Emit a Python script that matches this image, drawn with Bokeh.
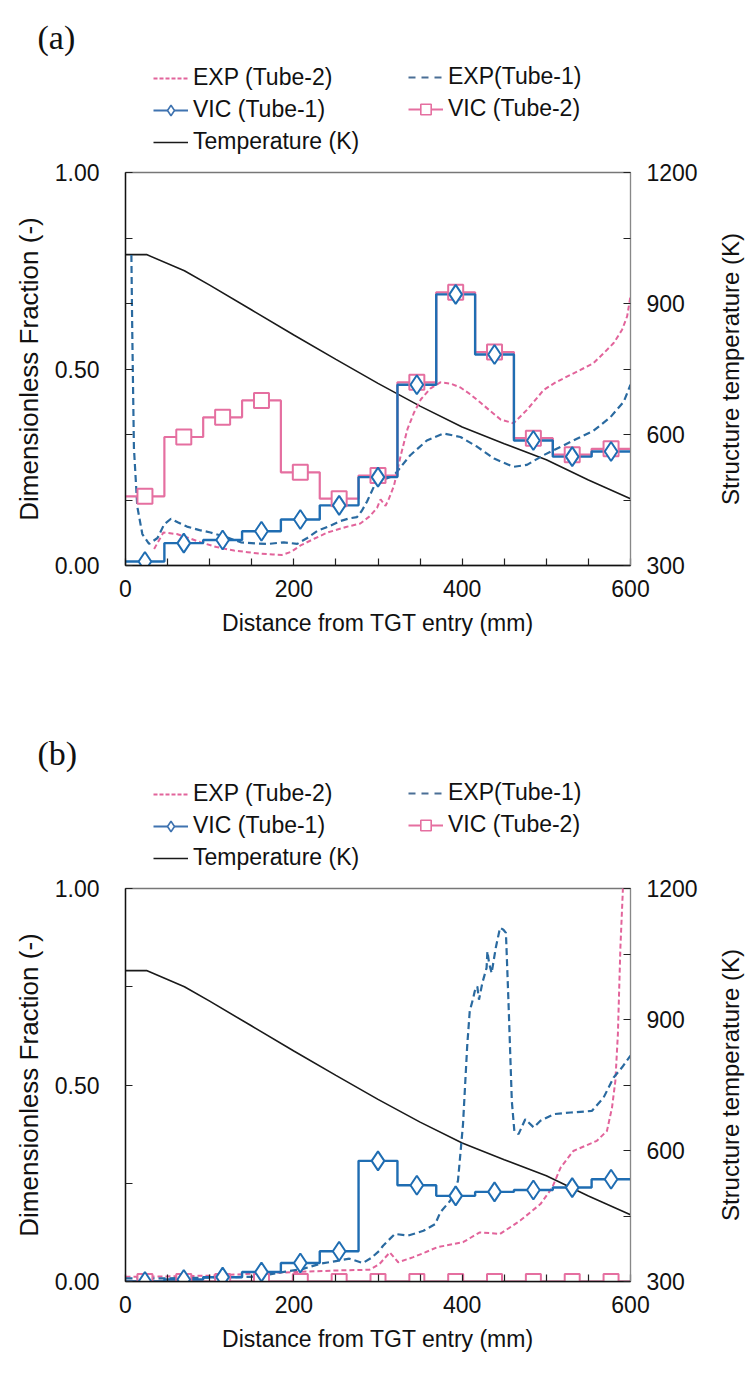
import math
from bokeh.plotting import figure
from bokeh.models import (Range1d, LinearAxis, FixedTicker, NumeralTickFormatter,
                          Legend, LegendItem, Label)
from bokeh.layouts import column, row
from bokeh.embed import file_html
from bokeh.resources import INLINE

# ---------------- data ----------------
x_ticks = [0, 200, 400, 600]
x_minor = [50, 100, 150, 250, 300, 350, 450, 500, 550]
left_ticks = [0.0, 0.5, 1.0]
left_minor_a = [1 / 6, 2 / 6, 4 / 6, 5 / 6]
left_minor_b = [0.25, 0.75]
right_ticks = [300, 600, 900, 1200]
right_minor = [450, 750, 1050]

# VIC cell edges (13 cells along the tube, mm)
vic_edges = [0, 46.2, 92.3, 138.5, 184.6, 230.8, 276.9, 323.1, 369.2, 415.4, 461.5, 507.7, 553.8, 600]

# structure temperature (K) - same in both panels
temp_x = [0, 25, 70, 100, 150, 200, 250, 300, 350, 400, 450, 500, 550, 600]
temp_K = [1012, 1012, 975, 942, 885, 828, 772, 717, 665, 617, 579, 542, 496, 453]

# ---- panel (a) ----
vic1_a = [0.01, 0.057, 0.065, 0.087, 0.117, 0.153, 0.225, 0.46, 0.69, 0.537, 0.318, 0.277, 0.29]
vic2_a = [0.176, 0.327, 0.377, 0.42, 0.237, 0.170, 0.229, 0.466, 0.695, 0.543, 0.324, 0.282, 0.297]

exp1_a_x = [7, 8, 10, 14, 20, 28, 38, 46, 54, 62, 73, 88, 101, 120, 137, 155, 170, 188, 204,
            216, 228, 242, 255, 266, 275, 281, 287, 295, 303, 319, 338, 358, 378, 398, 418,
            438, 461, 477, 497, 517, 537, 556, 576, 592, 600]
exp1_a_y = [0.79, 0.6, 0.3, 0.15, 0.08, 0.055, 0.07, 0.105, 0.119, 0.11, 0.099, 0.09, 0.084,
            0.072, 0.059, 0.056, 0.055, 0.059, 0.055, 0.07, 0.088, 0.1, 0.113, 0.12, 0.123,
            0.14, 0.163, 0.2, 0.215, 0.229, 0.28, 0.318, 0.336, 0.327, 0.302, 0.272, 0.251,
            0.256, 0.281, 0.302, 0.323, 0.343, 0.377, 0.417, 0.46]

exp2_a_x = [34, 45, 61, 75, 89, 108, 129, 145, 160, 175, 186, 197, 208, 224, 240, 262, 279,
            290, 299, 303, 306, 309, 313, 319, 327, 335, 343, 351, 362, 374, 386, 398, 410,
            422, 434, 446, 461, 477, 497, 511, 525, 540, 556, 568, 580, 590, 596, 600]
exp2_a_y = [0.042, 0.084, 0.08, 0.07, 0.059, 0.047, 0.038, 0.034, 0.03, 0.028, 0.027, 0.035,
            0.051, 0.068, 0.084, 0.098, 0.107, 0.125, 0.147, 0.168, 0.16, 0.152, 0.17, 0.203,
            0.28, 0.347, 0.39, 0.423, 0.45, 0.466, 0.463, 0.453, 0.435, 0.414, 0.392, 0.371,
            0.362, 0.396, 0.447, 0.466, 0.481, 0.497, 0.515, 0.54, 0.566, 0.6, 0.634, 0.686]

# ---- panel (b) ----
vic1_b = [0.0, 0.005, 0.011, 0.024, 0.047, 0.077, 0.307, 0.245, 0.218, 0.228, 0.233, 0.239, 0.26]
vic2_b = [0.0, 0.0, 0.0, 0.0, 0.0, 0.0, 0.0, 0.0, 0.0, 0.0, 0.0, 0.0, 0.0]

exp1_b_x = [0, 50, 100, 150, 163, 190, 211, 231, 250, 266, 282, 292, 302, 306, 320, 336, 354,
            368, 374, 386, 395, 401, 406, 409, 413, 415, 418, 420, 424, 429, 430, 432, 435,
            440, 445, 449, 452, 455, 459, 462, 467, 475, 485, 493, 509, 529, 554, 568, 580,
            590, 600]
exp1_b_y = [0.008, 0.008, 0.01, 0.012, 0.015, 0.025, 0.032, 0.045, 0.052, 0.058, 0.047, 0.06,
            0.079, 0.091, 0.121, 0.117, 0.129, 0.146, 0.176, 0.206, 0.256, 0.40, 0.6, 0.688,
            0.72, 0.739, 0.751, 0.717, 0.76, 0.798, 0.84, 0.81, 0.785, 0.85, 0.9, 0.895,
            0.887, 0.713, 0.459, 0.383, 0.375, 0.413, 0.392, 0.409, 0.426, 0.43, 0.434,
            0.468, 0.519, 0.545, 0.575]

exp2_b_x = [0, 50, 100, 155, 200, 250, 290, 302, 314, 324, 342, 356, 370, 401, 421, 445, 469,
            493, 507, 517, 532, 560, 572, 578, 582, 585, 588, 592]
exp2_b_y = [0.012, 0.013, 0.015, 0.02, 0.024, 0.028, 0.03, 0.045, 0.074, 0.049, 0.062, 0.074,
            0.087, 0.1, 0.125, 0.121, 0.155, 0.197, 0.239, 0.29, 0.332, 0.358, 0.383, 0.442,
            0.51, 0.629, 0.85, 1.05]

# ---------------- style ----------------
SANS = "Liberation Sans"
SERIF = "Liberation Serif"
PINK = "#E2649B"
PINK_V = "#E56FA0"
BLUE = "#1F6DB2"
BLUE_D = "#2A6AA0"
TEMP_C = "#1a1a1a"
INK = "#111111"

W = 745
HEAD_H = 156
TOP_B = 16
FRAME_H = 393
RIGHT_W = 30
MAIN_W = W - RIGHT_W

vic_centers = [(a + b) / 2 for a, b in zip(vic_edges[:-1], vic_edges[1:])]

# hidden sample position for legend swatches (outside the header's visible range)
swatch_x = [-30, -20]
swatch_y = [-30, -30]


def bare_fig(w, h):
    f = figure(width=w, height=h, x_range=Range1d(0, w), y_range=Range1d(0, h),
               output_backend="svg", toolbar_location=None,
               x_axis_location=None, y_axis_location=None,
               min_border=0, min_border_left=0, min_border_right=0,
               min_border_top=0, min_border_bottom=0)
    f.outline_line_color = None
    f.grid.visible = False
    f.background_fill_color = "white"
    f.border_fill_color = "white"
    return f


def make_header(tag):
    h = bare_fig(W, HEAD_H)
    s_e2 = h.line(swatch_x, swatch_y, line_color=PINK, line_width=2, line_dash="4 2")
    s_e1 = h.line(swatch_x, swatch_y, line_color="#4a6f96", line_width=2, line_dash="7 6")
    s_v1l = h.line(swatch_x, swatch_y, line_color="#3f73b0", line_width=2)
    s_v1m = h.scatter(swatch_x, swatch_y, marker="diamond", size=12, line_color="#3f73b0",
                      line_width=1.6, fill_color="white")
    s_v2l = h.line(swatch_x, swatch_y, line_color=PINK_V, line_width=2)
    s_v2m = h.scatter(swatch_x, swatch_y, marker="square", size=10, line_color=PINK_V,
                      line_width=1.6, fill_color="white")
    s_t = h.line(swatch_x, swatch_y, line_color=TEMP_C, line_width=1.6)
    common = dict(border_line_color=None, background_fill_alpha=0, padding=0, margin=0,
                  spacing=5, glyph_width=35, glyph_height=26, label_height=26,
                  label_standoff=5, label_text_font=SANS, label_text_font_size="23px",
                  label_text_color=INK)
    leg1 = Legend(items=[LegendItem(label="EXP (Tube-2)", renderers=[s_e2]),
                         LegendItem(label="VIC (Tube-1)", renderers=[s_v1l, s_v1m]),
                         LegendItem(label="Temperature (K)", renderers=[s_t])],
                  location=(153, 1), **common)
    leg2 = Legend(items=[LegendItem(label="EXP(Tube-1)", renderers=[s_e1]),
                         LegendItem(label="VIC (Tube-2)", renderers=[s_v2l, s_v2m])],
                  location=(408, 34), **common)
    h.add_layout(leg1)
    h.add_layout(leg2)
    h.add_layout(Label(x=37, y=HEAD_H - 37, x_units="screen", y_units="screen", text=tag,
                       text_font=SERIF, text_font_size="34px", text_color=INK,
                       text_align="left", text_baseline="middle"))
    return h


def make_main(main_h, left_minor, exp2_x, exp2_y, exp1_x, exp1_y, vic1, vic2):
    p = figure(width=MAIN_W, height=main_h, x_range=Range1d(0, 600), y_range=Range1d(0, 1),
               output_backend="svg", toolbar_location=None,
               min_border_left=125, min_border_right=MAIN_W - 630, min_border_top=TOP_B,
               min_border_bottom=main_h - TOP_B - FRAME_H)
    p.extra_y_ranges = {"temp": Range1d(300, 1200)}
    p.grid.visible = False
    p.outline_line_color = "#777777"
    p.outline_line_width = 1.3
    p.background_fill_color = "white"
    p.border_fill_color = "white"

    xa = p.xaxis[0]
    xa.ticker = FixedTicker(ticks=x_ticks, minor_ticks=x_minor)
    xa.axis_label = "Distance from TGT entry (mm)"
    ya = p.yaxis[0]
    ya.ticker = FixedTicker(ticks=left_ticks, minor_ticks=left_minor)
    ya.formatter = NumeralTickFormatter(format="0.00")
    ya.axis_label = "Dimensionless Fraction (-)"
    ra = LinearAxis(y_range_name="temp",
                    ticker=FixedTicker(ticks=right_ticks, minor_ticks=right_minor))
    p.add_layout(ra, "right")
    for ax in (xa, ya, ra):
        ax.major_tick_in = 7
        ax.major_tick_out = 0
        ax.minor_tick_in = 7
        ax.minor_tick_out = 0
        ax.major_tick_line_color = "#222222"
        ax.minor_tick_line_color = "#222222"
        ax.major_tick_line_width = 1.2
        ax.minor_tick_line_width = 1.2
        ax.major_label_text_font = SANS
        ax.major_label_text_font_size = "23px"
        ax.major_label_text_color = INK
        ax.axis_label_text_font = SANS
        ax.axis_label_text_font_size = "23px"
        ax.axis_label_text_font_style = "normal"
        ax.axis_label_text_color = INK
    ya.axis_label_text_font_size = "26px"
    xa.axis_line_color = "#111111"
    xa.axis_line_width = 1.4
    ya.axis_line_color = "#111111"
    ya.axis_line_width = 1.4
    ra.axis_line_color = "#888888"
    xa.major_label_standoff = 14
    xa.axis_label_standoff = 10
    ya.major_label_standoff = 26
    ya.axis_label_standoff = 8
    ra.major_label_standoff = 16

    p.line(temp_x, temp_K, y_range_name="temp", line_color=TEMP_C, line_width=1.6)
    p.line(exp2_x, exp2_y, line_color=PINK, line_width=2, line_dash="5 3")
    p.line(exp1_x, exp1_y, line_color=BLUE_D, line_width=2.2, line_dash="7 4")
    p.step(vic_edges, vic2 + [vic2[-1]], mode="after", line_color=PINK_V, line_width=2.2)
    p.step(vic_edges, vic1 + [vic1[-1]], mode="after", line_color=BLUE, line_width=2.4)
    p.scatter(vic_centers, vic2, marker="square", size=15, line_color=PINK_V,
              line_width=2, fill_color="white")
    p.scatter(vic_centers, vic1, marker="diamond", size=19, line_color=BLUE,
              line_width=2, fill_color="white")
    return p


def make_right_title(main_h):
    t = bare_fig(RIGHT_W, main_h)
    # this figure's frame is aligned with the main plot frame by the row layout
    t.add_layout(Label(x=15, y=FRAME_H / 2, x_units="screen", y_units="screen",
                       text="Structure temperature (K)", angle=math.pi / 2,
                       text_font=SANS, text_font_size="24px", text_color=INK,
                       text_align="center", text_baseline="middle"))
    return t


def make_panel(tag, total_h, left_minor, exp2_x, exp2_y, exp1_x, exp1_y, vic1, vic2):
    main_h = total_h - HEAD_H
    head = make_header(tag)
    main = make_main(main_h, left_minor, exp2_x, exp2_y, exp1_x, exp1_y, vic1, vic2)
    side = make_right_title(main_h)
    return column(head, row(main, side, spacing=0), spacing=0)


panel_a = make_panel("(a)", 716, left_minor_a, exp2_a_x, exp2_a_y, exp1_a_x, exp1_a_y, vic1_a, vic2_a)
panel_b = make_panel("(b)", 658, left_minor_b, exp2_b_x, exp2_b_y, exp1_b_x, exp1_b_y, vic1_b, vic2_b)

layout = column(panel_a, panel_b, spacing=0)
open("out.html", "w").write(file_html(layout, INLINE))
